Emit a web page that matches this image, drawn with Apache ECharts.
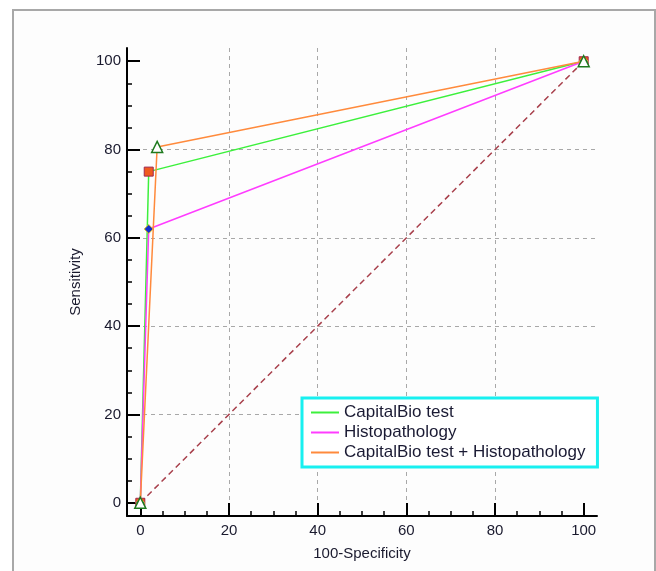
<!DOCTYPE html>
<html>
<head>
<meta charset="utf-8">
<script src="https://cdn.jsdelivr.net/npm/echarts@6/dist/echarts.min.js"></script>
<style>
  html, body { margin: 0; padding: 0; background: #ffffff; }
  #chart { width: 656px; height: 571px; }
</style>
</head>
<body>
<div id="chart"></div>
<script>
// ROC curves, x = 100-Specificity, y = Sensitivity
var seriesNames = ["CapitalBio test", "Histopathology", "CapitalBio test + Histopathology"];
var capitalBio = [[0, 0], [1.9, 75], [100, 100]];
var histo = [[0, 0], [1.9, 62], [100, 100]];
var combined = [[0, 0], [3.8, 80.6], [100, 100]];
var diagonal = [[0, 0], [100, 100]];

var majorTicks = [0, 20, 40, 60, 80, 100];
var minorTicks = [5, 10, 15, 25, 30, 35, 45, 50, 55, 65, 70, 75, 85, 90, 95];

var lineColors = ["#3cf03c", "#ff3cff", "#ff8a3c"];
var axisFont = { fontFamily: "Liberation Sans", fontSize: 15, color: "#1a1a2e" };

function majorAxis(dim) {
    return {
        type: "value",
        min: -3,
        max: 103,
        position: dim === "x" ? "bottom" : "left",
        name: dim === "x" ? "100-Specificity" : "Sensitivity",
        nameLocation: "middle",
        nameGap: dim === "x" ? 30 : 44,
        nameTextStyle: axisFont,
        axisLine: { show: true, onZero: false, lineStyle: { color: "#000", width: 2 } },
        axisTick: { show: true, inside: true, length: 13, customValues: majorTicks, lineStyle: { color: "#000", width: 2 } },
        axisLabel: Object.assign({ customValues: majorTicks, margin: dim === "x" ? 7 : 6 }, axisFont),
        splitLine: {
            show: true,
            showMinLine: false,
            showMaxLine: false,
            lineStyle: { color: "#a8a8a8", type: [4, 4], width: 1 },
        },
    };
}

function minorAxis(dim) {
    return {
        type: "value",
        min: -3,
        max: 103,
        position: dim === "x" ? "bottom" : "left",
        axisLine: { show: false, onZero: false },
        axisTick: { show: true, inside: true, length: 5, customValues: minorTicks, lineStyle: { color: "#000", width: 1.5 } },
        axisLabel: { show: false },
        splitLine: { show: false },
    };
}

var chart = echarts.init(document.getElementById("chart"), null, { renderer: "canvas" });

chart.setOption({
    backgroundColor: "#ffffff",
    animation: false,
    graphic: [
        {
            type: "rect",
            shape: { x: 13, y: 10, width: 642, height: 620 },
            style: { fill: "#fdfdfd", stroke: "#a8a8a8", lineWidth: 2 },
            z: -10,
        },
    ],
    grid: { left: 127, right: 59, top: 48, bottom: 55, containLabel: false },
    xAxis: [majorAxis("x"), minorAxis("x")],
    yAxis: [majorAxis("y"), minorAxis("y")],
    legend: {
        orient: "vertical",
        left: 302,
        top: 398,
        padding: [6, 12, 6, 9],
        itemGap: 3,
        itemWidth: 28,
        itemHeight: 2,
        icon: "rect",
        borderColor: "#18f0f0",
        borderWidth: 3,
        backgroundColor: "#ffffff",
        textStyle: { fontFamily: "Liberation Sans", fontSize: 17, color: "#1a1a33" },
        data: seriesNames.map(function (n, i) {
            return { name: n, itemStyle: { color: lineColors[i], borderColor: lineColors[i], borderWidth: 0 } };
        }),
    },
    series: [
        {
            type: "line",
            data: diagonal,
            showSymbol: false,
            silent: true,
            lineStyle: { color: "#a8404c", width: 1.5, type: [6, 4] },
            z: 2,
        },
        {
            name: seriesNames[0],
            type: "line",
            data: capitalBio,
            symbol: "rect",
            symbolSize: 9,
            itemStyle: { color: "#f05a1e", borderColor: "#a02850", borderWidth: 1 },
            lineStyle: { color: lineColors[0], width: 1.5 },
            z: 3,
        },
        {
            name: seriesNames[1],
            type: "line",
            data: histo,
            symbol: "diamond",
            symbolSize: 9,
            itemStyle: { color: "#1030d0", borderColor: "#e0c020", borderWidth: 1 },
            lineStyle: { color: lineColors[1], width: 1.5 },
            z: 4,
        },
        {
            name: seriesNames[2],
            type: "line",
            data: combined,
            symbol: "triangle",
            symbolSize: 11,
            itemStyle: { color: "#ffffff", borderColor: "#1e7a1e", borderWidth: 1.5 },
            lineStyle: { color: lineColors[2], width: 1.5 },
            z: 5,
        },
    ],
});
</script>
</body>
</html>
